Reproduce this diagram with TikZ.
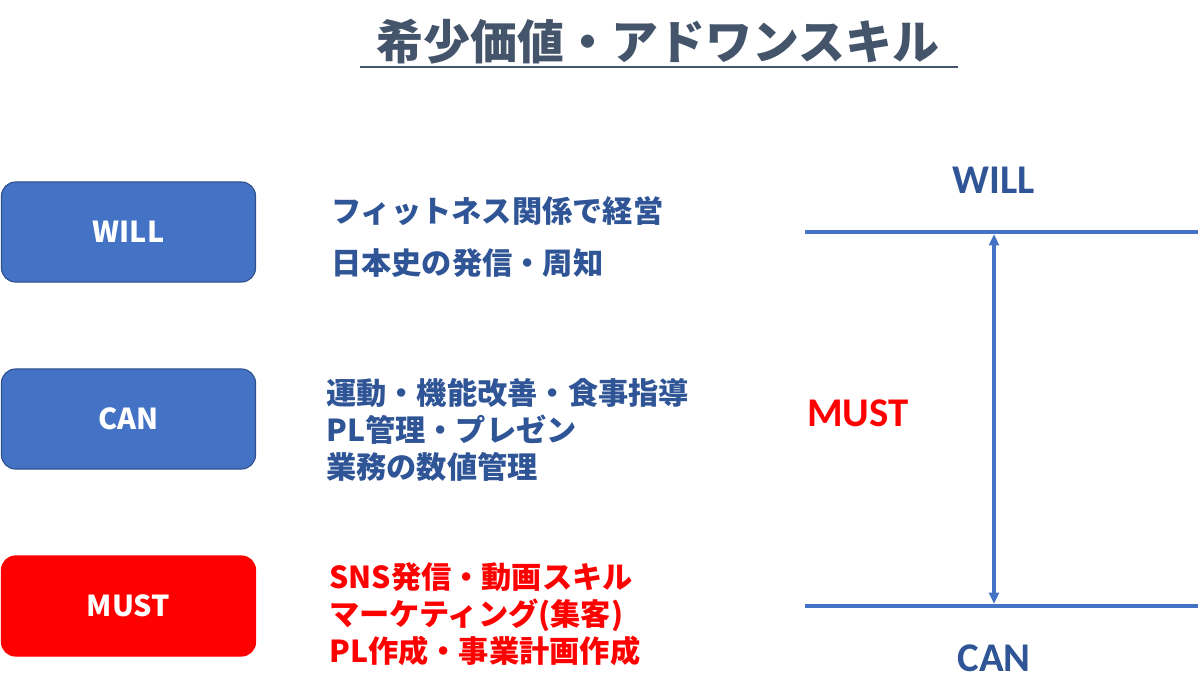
\documentclass[tikz,border=0pt]{standalone}
\usepackage{fontspec}
\newfontfamily\cjk{Noto Sans CJK JP}
\newfontfamily\lat{Carlito}
\usetikzlibrary{positioning, arrows.meta}
\definecolor{titlegray}{HTML}{44546A}
\definecolor{boxblue}{HTML}{4472C4}
\definecolor{boxedge}{HTML}{2F528F}
\definecolor{textblue}{HTML}{2F5597}
\definecolor{mustred}{HTML}{FF0000}

\begin{document}
\begin{tikzpicture}[
    x=0.025cm, y=-0.025cm,
    % Styles
    levelbox/.style={rounded corners=10pt, minimum width=6.35cm, minimum height=2.5cm, line width=0.8pt, text=white, font=\cjk\bfseries\fontsize{20.5}{24}\selectfont},
    skills/.style={anchor=west, align=left, inner sep=0pt, font=\cjk\bfseries\fontsize{21.5}{26.3}\selectfont},
    axislabel/.style={font=\lat\bfseries\fontsize{29}{34}\selectfont, inner sep=0pt},
    axisline/.style={boxblue, line width=2.6pt},
    rangearrow/.style={{Triangle[length=8pt,width=7pt]}-{Triangle[length=8pt,width=7pt]}, boxblue, line width=2.6pt, shorten <=1.5pt, shorten >=1.5pt},
]
\useasboundingbox (0,0) rectangle (1200,698);

% Title
\node[font=\cjk\bfseries\fontsize{33.4}{40}\selectfont, titlegray, inner sep=0pt] (title) at (658,42) {希少価値・アドワンスキル};
\coordinate (ulL) at (360,67);
\coordinate (ulR) at (958,67);
\draw[titlegray, line width=1.6pt] (ulL) -- (ulR);

% Left column boxes
\node[levelbox, draw=boxedge, fill=boxblue] (willbox) at (128.5,232) {WILL};
\node[levelbox, draw=boxedge, fill=boxblue] (canbox) at (128.5,419) {CAN};
\node[levelbox, draw=mustred, fill=mustred] (mustbox) at (128.5,606) {MUST};

% Skill lists
\node[skills, textblue] (willtext) at (331,237) {フィットネス関係で経営\\[10pt]日本史の発信・周知};
\node[skills, textblue] (cantext) at (326,430) {運動・機能改善・食事指導\\PL管理・プレゼン\\業務の数値管理};
\node[skills, mustred] (musttext) at (329,614) {SNS発信・動画スキル\\マーケティング(集客)\\PL作成・事業計画作成};

% Right scale
\coordinate (willL) at (805,232);
\coordinate (willR) at (1198,232);
\coordinate (canL) at (805,606);
\coordinate (canR) at (1198,606);
\draw[axisline] (willL) -- (willR);
\draw[axisline] (canL) -- (canR);

\coordinate (top) at (994,232);
\coordinate (bottom) at (994,606);
\draw[rangearrow] (top) -- (bottom);

\node[axislabel, textblue, above=0.95cm of top] (willlabel) {WILL};
\node[axislabel, textblue, below=0.95cm of bottom] (canlabel) {CAN};
\node[axislabel, mustred] (mustlabel) at (858,413) {MUST};

\end{tikzpicture}
\end{document}
